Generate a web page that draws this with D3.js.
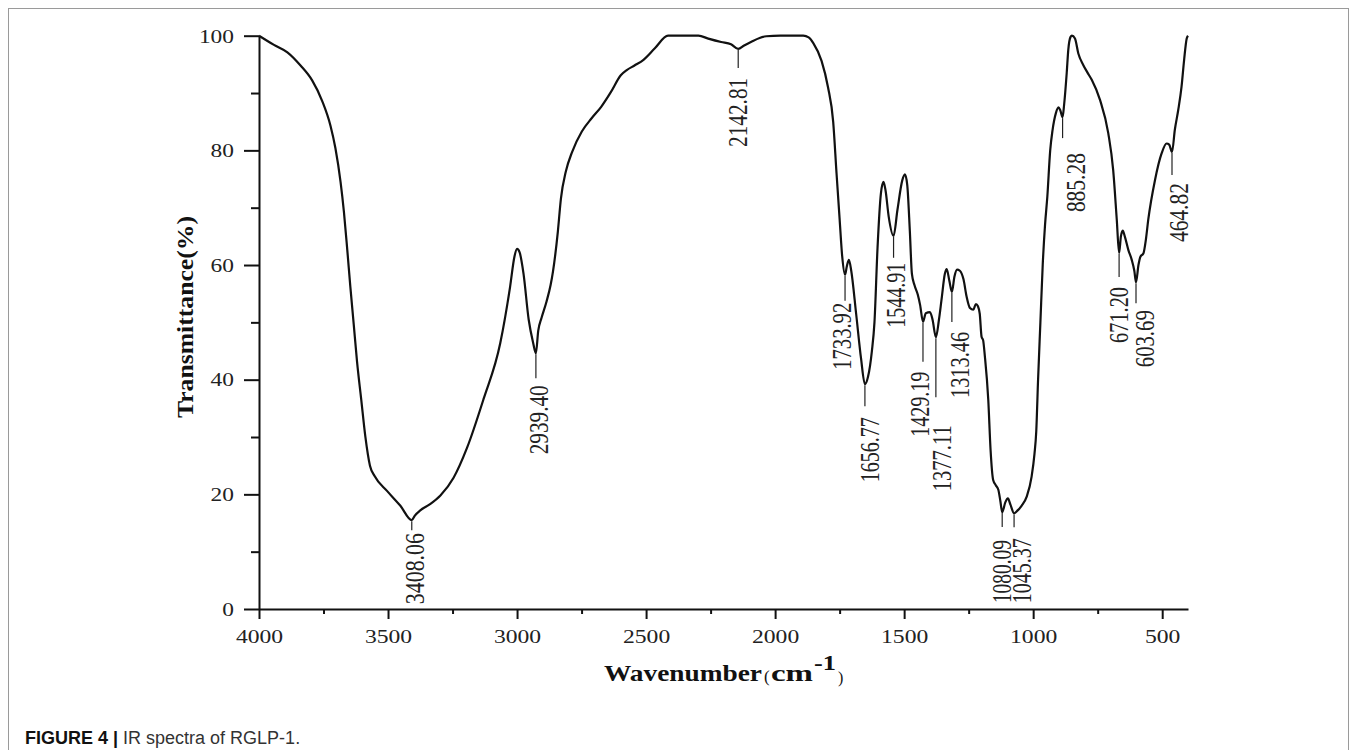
<!DOCTYPE html>
<html>
<head>
<meta charset="utf-8">
<script src="https://cdn.jsdelivr.net/npm/d3@7/dist/d3.min.js"></script>
<style>
  html, body { margin: 0; padding: 0; background: #ffffff; }
  svg { display: block; }
</style>
</head>
<body>
<svg id="chart" width="1357" height="750"></svg>
<script>
// ---------------- DATA ----------------
const wavenumbers = [
  4000, 3975, 3942, 3890, 3839, 3794, 3755, 3723, 3704, 3684, 3671, 3658, 3646, 3633, 3620, 3604, 3588, 3570, 3552, 3504,
  3452, 3408, 3396, 3375, 3340, 3297, 3246, 3194, 3130, 3065, 3027, 3010, 3000, 2990, 2975, 2955, 2938, 2927, 2918, 2905,
  2886, 2870, 2861, 2842, 2830, 2811, 2786, 2749, 2711, 2674, 2636, 2598, 2575, 2545, 2510, 2466, 2415, 2297, 2259, 2209,
  2171, 2143, 2120, 2090, 2060, 2034, 1980, 1891, 1870, 1852, 1820, 1795, 1775, 1762, 1750, 1740, 1729, 1722, 1714, 1705,
  1686, 1667, 1652, 1640, 1625, 1615, 1603, 1590, 1580, 1572, 1560, 1541, 1526, 1507, 1497, 1488, 1478, 1470, 1460, 1447,
  1438, 1427, 1416, 1400, 1390, 1377, 1365, 1355, 1342, 1335, 1325, 1315, 1305, 1295, 1284, 1270, 1258, 1245, 1232, 1222,
  1214, 1207, 1200, 1194, 1187, 1174, 1165, 1155, 1145, 1135, 1127, 1120, 1108, 1098, 1088, 1074, 1060, 1045, 1025, 1006,
  995, 988, 981, 972, 963, 954, 945, 934, 925, 912, 902, 895, 886, 880, 870, 864, 855, 850, 838, 825,
  806, 790, 773, 741, 709, 690, 676, 667, 660, 653, 645, 631, 618, 608, 601.5, 592, 584, 573, 563, 554,
  528, 502, 483, 473, 462, 451, 438, 425, 415, 405, 400
];
const transmittance = [
  100, 99.3, 98.4, 97.1, 94.8, 92.2, 88.6, 84.3, 80.4, 74.5, 69.3, 62.7, 56.2, 49.7, 43.1, 36.6, 30.1, 25.0, 23.2, 20.6,
  18.0, 15.5, 16.3, 17.2, 18.2, 19.8, 22.9, 28.1, 36.6, 46.4, 56.2, 61.5, 62.8, 62.2, 58.5, 50.5, 46.5, 44.6, 48.5, 50.8,
  53.6, 56.5, 58.8, 65.8, 71.6, 76.3, 79.8, 83.3, 85.6, 87.6, 90.2, 93.1, 94.0, 94.8, 95.8, 97.8, 100, 100, 99.5, 98.9,
  98.5, 97.7, 98.3, 99.0, 99.6, 99.9, 100, 100, 99.7, 98.7, 95.6, 91, 85, 76, 68, 61.5, 58.3, 59.8, 60.9, 59,
  51.5, 43.7, 39.2, 40.5, 45, 50, 63.1, 72.5, 74.5, 73, 68.5, 65.1, 69.6, 74.8, 75.8, 74, 66, 58.5, 56.5, 54.8,
  53, 50.1, 51.6, 51.8, 50.5, 47.4, 50.5, 54, 58.5, 59.3, 57.3, 55.3, 58.0, 59.2, 59, 57.5, 54.5, 52.5, 52.2, 53.2,
  52.8, 51.5, 47.5, 46.9, 44, 36.5, 27.7, 22.5, 21.6, 20.8, 18.8, 16.9, 18.6, 19.3, 18.2, 16.7, 17.2, 18.0, 19.6, 23.1,
  27, 31, 40, 50, 60, 67, 72, 80, 83.5, 86.5, 87.5, 87, 85.8, 88, 93.5, 97.5, 99.8, 100, 99.5, 96.9,
  94.9, 93.6, 92.3, 88.8, 83, 76.6, 67.9, 62.1, 65, 66, 65, 62.6, 60.9, 59, 57.0, 60, 61.5, 62, 64.5, 67.9,
  74.8, 79.5, 81.2, 81, 79.7, 83.6, 87, 91.1, 95.8, 99.5, 100
];

const xMajorTicks = [4000, 3500, 3000, 2500, 2000, 1500, 1000, 500];
const xMinorTicks = [3750, 3250, 2750, 2250, 1750, 1250, 750];
const yMajorTicks = [0, 20, 40, 60, 80, 100];
const yMinorTicks = [10, 30, 50, 70, 90];

const peakLabels = ["3408.06", "2939.40", "2142.81", "1733.92", "1656.77", "1544.91", "1429.19", "1377.11",
                    "1313.46", "1080.09", "1045.37", "885.28", "671.20", "603.69", "464.82"];
const peakWn = [3408, 2927, 2143, 1729, 1652, 1541, 1427, 1377, 1315, 1120, 1074, 886, 667, 601.5, 462];
const peakT  = [15.5, 44.6, 97.7, 58.3, 39.2, 65.1, 50.1, 47.4, 55.3, 16.9, 16.7, 85.8, 62.1, 57.0, 79.7];

const xTitle = "Wavenumber";
const yTitle = "Transmittance(%)";
const captionBold = "FIGURE 4 | ";
const captionText = "IR spectra of RGLP-1.";

// ---------------- LAYOUT (pixels) ----------------
// per label: leader line length, gap to text, text length, horizontal offset
const labelLine = [10, 25, 19, 26, 22, 22, 40, 60, 30, 15, 14, 21, 24, 21, 23];
const labelGap  = [3, 7, 10, 2, 11, 5, 10, 28, 10, 13, 11, 15, 10, 7, 8];
const labelLen  = [71, 69, 69, 67, 65, 65, 65, 66, 66, 63, 65, 59, 56, 57, 59];
const labelDx   = [3, 3, 0, -3, 5, 2, -3, 6, 8, 0, 8, 13, 0, 9, 7];

const svg = d3.select("#chart");

// frame
svg.append("rect")
  .attr("x", 8.5).attr("y", 8.5)
  .attr("width", 1340).attr("height", 760)
  .attr("fill", "none").attr("stroke", "#9a9a9a").attr("stroke-width", 1);

const x = d3.scaleLinear().domain([4000, 400]).range([259, 1188]);
const y = d3.scaleLinear().domain([0, 100]).range([609, 35.7]);

const serif = "'Liberation Serif', 'Times New Roman', serif";
const ink = "#111";

// X axis
const gx = svg.append("g").attr("transform", "translate(0,609)");
gx.call(d3.axisBottom(x).tickValues(xMajorTicks).tickSize(10).tickSizeOuter(0).tickFormat(d3.format("d")));
gx.select(".domain").attr("stroke", ink).attr("stroke-width", 2);
gx.selectAll(".tick line").attr("stroke", ink).attr("stroke-width", 2);
gx.selectAll(".tick text")
  .attr("y", 34).attr("dy", 0)
  .attr("fill", "#222")
  .style("font-family", serif).style("font-size", "19px")
  .attr("textLength", d => String(d).length * 11.8)
  .attr("lengthAdjust", "spacingAndGlyphs");

const gxm = svg.append("g").attr("transform", "translate(0,609)");
gxm.call(d3.axisBottom(x).tickValues(xMinorTicks).tickSize(5).tickSizeOuter(0).tickFormat(""));
gxm.select(".domain").remove();
gxm.selectAll(".tick line").attr("stroke", ink).attr("stroke-width", 2);

// Y axis
const gy = svg.append("g").attr("transform", "translate(259,0)");
gy.call(d3.axisLeft(y).tickValues(yMajorTicks).tickSize(15).tickSizeOuter(0).tickFormat(d3.format("d")));
gy.select(".domain").attr("stroke", ink).attr("stroke-width", 2);
gy.selectAll(".tick line").attr("stroke", ink).attr("stroke-width", 2);
gy.selectAll(".tick text")
  .attr("x", -25).attr("dy", "0.35em")
  .attr("fill", "#222")
  .style("font-family", serif).style("font-size", "18px")
  .attr("textLength", d => String(d).length * 11.7)
  .attr("lengthAdjust", "spacingAndGlyphs");

const gym = svg.append("g").attr("transform", "translate(259,0)");
gym.call(d3.axisLeft(y).tickValues(yMinorTicks).tickSize(8).tickSizeOuter(0).tickFormat(""));
gym.select(".domain").remove();
gym.selectAll(".tick line").attr("stroke", ink).attr("stroke-width", 2);

// spectrum
const pts = wavenumbers.map((w, i) => [w, transmittance[i]]);
const line = d3.line().x(d => x(d[0])).y(d => y(d[1])).curve(d3.curveMonotoneX);
svg.append("path")
  .datum(pts)
  .attr("d", line)
  .attr("fill", "none")
  .attr("stroke", ink)
  .attr("stroke-width", 2.2)
  .attr("stroke-linejoin", "round");

// peak labels
peakLabels.forEach((lab, i) => {
  const px = x(peakWn[i]);
  const py = y(peakT[i]);
  const y1 = py + labelLine[i];
  svg.append("line")
    .attr("x1", px).attr("x2", px)
    .attr("y1", py + 1).attr("y2", y1)
    .attr("stroke", "#222").attr("stroke-width", 1.2);
  const yBottom = y1 + labelGap[i] + labelLen[i];
  svg.append("text")
    .attr("transform", `translate(${px + labelDx[i]},${yBottom}) rotate(-90)`)
    .attr("text-anchor", "start")
    .attr("dominant-baseline", "central")
    .attr("fill", "#222")
    .style("font-family", serif).style("font-size", "27px")
    .attr("textLength", labelLen[i])
    .attr("lengthAdjust", "spacingAndGlyphs")
    .text(lab);
});

// Y title
svg.append("text")
  .attr("transform", "translate(185,317) rotate(-90)")
  .attr("text-anchor", "middle")
  .attr("dominant-baseline", "central")
  .attr("fill", ink)
  .style("font-family", serif).style("font-size", "24px").style("font-weight", "bold")
  .attr("textLength", 202).attr("lengthAdjust", "spacingAndGlyphs")
  .text(yTitle);

// X title
svg.append("text")
  .attr("x", 604).attr("y", 681)
  .attr("fill", ink)
  .style("font-family", serif).style("font-size", "24px").style("font-weight", "bold")
  .attr("textLength", 158).attr("lengthAdjust", "spacingAndGlyphs")
  .text(xTitle);
svg.append("text")
  .attr("x", 764).attr("y", 682)
  .attr("fill", ink)
  .style("font-family", serif).style("font-size", "17px")
  .text("(");
svg.append("text")
  .attr("x", 771).attr("y", 681)
  .attr("fill", ink)
  .style("font-family", serif).style("font-size", "24px").style("font-weight", "bold")
  .attr("textLength", 42).attr("lengthAdjust", "spacingAndGlyphs")
  .text("cm");
svg.append("text")
  .attr("x", 814).attr("y", 670)
  .attr("fill", ink)
  .style("font-family", serif).style("font-size", "20px").style("font-weight", "bold")
  .attr("textLength", 22).attr("lengthAdjust", "spacingAndGlyphs")
  .text("-1");
svg.append("text")
  .attr("x", 838).attr("y", 683)
  .attr("fill", ink)
  .style("font-family", serif).style("font-size", "16px")
  .text(")");

// caption
const cap = svg.append("text")
  .attr("x", 25).attr("y", 744)
  .style("font-family", "'Liberation Sans', Arial, sans-serif").style("font-size", "18px");
cap.append("tspan").attr("font-weight", "bold").attr("fill", "#111").text(captionBold);
cap.append("tspan").attr("fill", "#333").text(captionText);
</script>
</body>
</html>
